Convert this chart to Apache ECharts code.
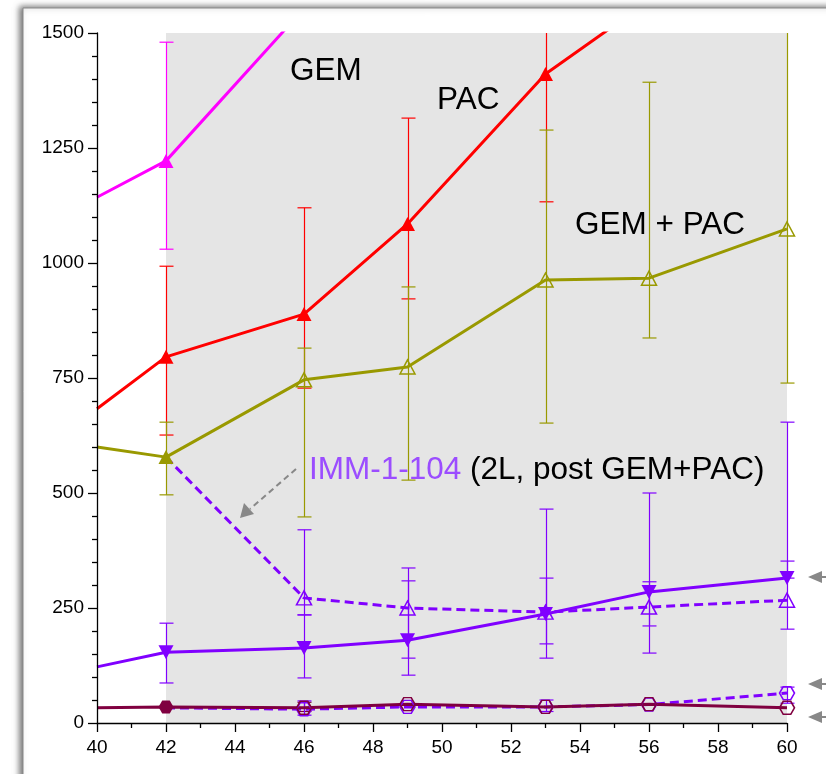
<!DOCTYPE html>
<html>
<head>
<meta charset="utf-8">
<script src="https://cdn.jsdelivr.net/npm/echarts@6/dist/echarts.min.js"></script>
<style>
  html, body { margin: 0; padding: 0; background: #ffffff; }
  #chart { width: 826px; height: 774px; }
</style>
</head>
<body>
<div id="chart"></div>
<script>
// ---- data ----
const xTicks = [40, 42, 44, 46, 48, 50, 52, 54, 56, 58, 60];
const yTicks = [0, 250, 500, 750, 1000, 1250, 1500];
const shadedRange = [42, 60];

// GEM
const gemX = [40, 42, 46];
const gemY = [1143, 1222, 1553];
const gemErrX = [42];
const gemErrLo = [1030];
const gemErrHi = [1480];

// PAC
const pacX = [40, 42, 46, 49, 53, 56];
const pacY = [683, 796, 889, 1085, 1411, 1570];
const pacErrX = [42, 46, 49, 53];
const pacErrLo = [626, 728, 922, 1133];
const pacErrHi = [993, 1120, 1315, 1690];

// GEM + PAC
const comboX = [40, 42, 46, 49, 53, 56, 60];
const comboY = [600, 578, 746, 774, 963, 967, 1074];
const comboErrX = [42, 46, 49, 53, 56, 60];
const comboErrLo = [496, 448, 528, 652, 837, 739];
const comboErrHi = [654, 815, 948, 1289, 1393, 1600];

// IMM-1-104 (2L, post GEM+PAC)
const immPostX = [42, 46, 49, 53, 56, 60];
const immPostY = [578, 272, 250, 241, 252, 267];
const immPostErrX = [46, 49, 53, 56, 60];
const immPostErrLo = [235, 141, 141, 152, 204];
const immPostErrHi = [420, 337, 315, 500, 654];

// IMM-1-104
const immX = [40, 42, 46, 49, 53, 56, 60];
const immY = [122, 154, 163, 180, 237, 285, 315];
const immErrX = [42, 46, 49, 53, 56, 60];
const immErrLo = [87, 98, 104, 172, 211, 315];
const immErrHi = [217, 235, 309, 465, 307, 352];

// baseline group
const baseX = [40, 42, 46, 49, 53, 56, 60];
const baseY = [33, 35, 33, 41, 35, 41, 33];
const baseErrX = [46];
const baseErrLo = [25];
const baseErrHi = [45];

// baseline group, post GEM+PAC
const basePostX = [42, 46, 49, 53, 56, 60];
const basePostY = [33, 30, 35, 35, 40, 65];
const basePostErrX = [46, 53, 60];
const basePostErrLo = [17, 25, 43];
const basePostErrHi = [48, 50, 78];

// ---- styles ----
const C_GEM = '#ff00ff';
const C_PAC = '#ff0000';
const C_COMBO = '#999900';
const C_IMM = '#8000ff';
const C_BASE = '#800040';
const C_LABEL_IMM = '#9b4dff';
const FONT = '"Liberation Sans", Arial, sans-serif';
const TITLE_FONT = '31.5px ' + FONT;
const HEX = 'path://M0,5 L3,0 L9,0 L12,5 L9,10 L3,10 Z';

function pairs(xs, ys) { return xs.map((x, i) => [x, ys[i]]); }
function errData(xs, lo, hi) { return xs.map((x, i) => [x, lo[i], hi[i]]); }

function openStyle(c) {
  return { color: 'rgba(0,0,0,0)', borderColor: c, borderWidth: 1.5 };
}

function errorSeries(xs, lo, hi, color) {
  return {
    type: 'custom',
    z: 2,
    silent: true,
    data: errData(xs, lo, hi),
    encode: { x: 0, y: [1, 2] },
    renderItem: function (params, api) {
      const cs = params.coordSys;
      const top = cs.y, bot = cs.y + cs.height;
      const x = api.value(0);
      const pLo = api.coord([x, api.value(1)]);
      const pHi = api.coord([x, api.value(2)]);
      const px = Math.round(pLo[0]) + 0.5;
      const y0 = Math.min(pLo[1], bot);
      const y1 = Math.max(pHi[1], top);
      const cap = 7;
      const style = { stroke: color, lineWidth: 1.2 };
      const kids = [{ type: 'line', shape: { x1: px, y1: y0, x2: px, y2: y1 }, style: style }];
      if (pLo[1] <= bot && pLo[1] >= top) {
        kids.push({ type: 'line', shape: { x1: px - cap, y1: pLo[1], x2: px + cap, y2: pLo[1] }, style: style });
      }
      if (pHi[1] >= top && pHi[1] <= bot) {
        kids.push({ type: 'line', shape: { x1: px - cap, y1: pHi[1], x2: px + cap, y2: pHi[1] }, style: style });
      }
      return { type: 'group', children: kids };
    }
  };
}

function lineSeries(data, color, opts) {
  return Object.assign({
    type: 'line',
    z: 3,
    data: data,
    showAllSymbol: true,
    clip: true,
    symbol: 'triangle',
    symbolSize: [15, 14],
    lineStyle: { color: color, width: 3 },
    itemStyle: { color: color },
    animation: false
  }, opts || {});
}

// per-point marker tweaks
const gemData = pairs(gemX, gemY).map(p => (p[0] === 42 ? p : { value: p, symbol: 'none' }));
const pacData = pairs(pacX, pacY).map(p => (p[0] === 40 ? { value: p, symbol: 'none' } : p));
const comboData = pairs(comboX, comboY).map(p => {
  if (p[0] === 40) return { value: p, symbol: 'none' };
  if (p[0] === 42) return p;
  return { value: p, itemStyle: openStyle(C_COMBO) };
});
const immPostData = pairs(immPostX, immPostY).map(p =>
  p[0] === 42 ? { value: p, symbol: 'none' } : { value: p, itemStyle: openStyle(C_IMM) });
const immData = pairs(immX, immY).map(p => (p[0] === 40 ? { value: p, symbol: 'none' } : p));
const baseData = pairs(baseX, baseY).map(p => {
  if (p[0] === 40) return { value: p, symbol: 'none' };
  if (p[0] === 42) return p;
  return { value: p, itemStyle: openStyle(C_BASE) };
});
const basePostData = pairs(basePostX, basePostY).map(p =>
  p[0] === 42 ? { value: p, symbol: 'none' } : { value: p, itemStyle: openStyle(C_IMM) });

// ---- annotation helpers (page pixels) ----
function leftArrow(y) {
  return [
    { type: 'polygon', shape: { points: [[808, y], [822, y - 6], [822, y + 6]] }, style: { fill: '#888888' }, z: 50 },
    { type: 'line', shape: { x1: 820, y1: y, x2: 830, y2: y }, style: { stroke: '#888888', lineWidth: 2 }, z: 50 }
  ];
}

const chart = echarts.init(document.getElementById('chart'), null, { renderer: 'canvas' });

const option = {
  animation: false,
  backgroundColor: '#ffffff',
  grid: { left: 97, top: 33, right: 39, bottom: 51, containLabel: false },
  xAxis: {
    type: 'value',
    min: xTicks[0],
    max: xTicks[xTicks.length - 1],
    interval: 2,
    z: 10,
    axisLine: { show: true, onZero: false, lineStyle: { color: '#000000', width: 1.3 } },
    axisTick: { show: true, length: 9, lineStyle: { color: '#000000', width: 1.3 } },
    minorTick: { show: true, splitNumber: 2, length: 5, lineStyle: { color: '#000000', width: 1.3 } },
    splitLine: { show: false },
    axisLabel: { color: '#000000', fontSize: 19, fontFamily: FONT, margin: 15, formatter: v => String(v) }
  },
  yAxis: {
    type: 'value',
    min: yTicks[0],
    max: yTicks[yTicks.length - 1],
    interval: 250,
    z: 10,
    axisLine: { show: true, onZero: false, lineStyle: { color: '#000000', width: 1.3 } },
    axisTick: { show: true, length: 9, lineStyle: { color: '#000000', width: 1.3 } },
    minorTick: { show: true, splitNumber: 5, length: 5, lineStyle: { color: '#000000', width: 1.3 } },
    splitLine: { show: false },
    axisLabel: { color: '#000000', fontSize: 19, fontFamily: FONT, margin: 13, formatter: v => String(v) }
  },
  series: [
    // shaded band
    {
      type: 'custom',
      z: 1,
      silent: true,
      data: [[shadedRange[0], shadedRange[1]]],
      encode: { x: [0, 1] },
      renderItem: function (params, api) {
        const cs = params.coordSys;
        const a = api.coord([api.value(0), 0]);
        const b = api.coord([api.value(1), 0]);
        return { type: 'rect', shape: { x: a[0], y: cs.y, width: b[0] - a[0], height: cs.height }, style: { fill: '#e5e5e5' } };
      }
    },
    errorSeries(gemErrX, gemErrLo, gemErrHi, C_GEM),
    errorSeries(pacErrX, pacErrLo, pacErrHi, C_PAC),
    errorSeries(comboErrX, comboErrLo, comboErrHi, C_COMBO),
    errorSeries(immPostErrX, immPostErrLo, immPostErrHi, C_IMM),
    errorSeries(immErrX, immErrLo, immErrHi, C_IMM),
    errorSeries(baseErrX, baseErrLo, baseErrHi, C_BASE),
    errorSeries(basePostErrX, basePostErrLo, basePostErrHi, C_IMM),
    lineSeries(gemData, C_GEM),
    lineSeries(pacData, C_PAC),
    lineSeries(comboData, C_COMBO),
    lineSeries(immPostData, C_IMM, { lineStyle: { color: C_IMM, width: 3, type: [9, 5] } }),
    lineSeries(immData, C_IMM, { symbolRotate: 180 }),
    lineSeries(basePostData, C_IMM, { symbol: HEX, symbolSize: [15, 13], lineStyle: { color: C_IMM, width: 3, type: [9, 5] } }),
    lineSeries(baseData, C_BASE, { symbol: HEX, symbolSize: [15, 13], lineStyle: { color: C_BASE, width: 3 } })
  ],
  graphic: [
    // panel with drop shadow
    {
      type: 'rect', z: -100, silent: true,
      shape: { x: 23, y: 8, width: 900, height: 900 },
      style: { fill: '#ffffff', stroke: '#8a8a8a', lineWidth: 1, shadowBlur: 6, shadowOffsetX: -3, shadowOffsetY: -1, shadowColor: 'rgba(0,0,0,0.55)' }
    },
    { type: 'text', z: 50, left: 290, top: 55, style: { text: 'GEM', font: TITLE_FONT, fill: '#000000' } },
    { type: 'text', z: 50, left: 437, top: 84, style: { text: 'PAC', font: TITLE_FONT, fill: '#000000' } },
    { type: 'text', z: 50, left: 575, top: 209, style: { text: 'GEM + PAC', font: TITLE_FONT, fill: '#000000' } },
    {
      type: 'text', z: 50, left: 309, top: 454,
      style: {
        text: '{a|IMM-1-104} {b|(2L, post GEM+PAC)}',
        font: TITLE_FONT,
        rich: {
          a: { fill: C_LABEL_IMM, font: TITLE_FONT },
          b: { fill: '#000000', font: TITLE_FONT }
        }
      }
    },
    // dashed pointer toward the post-treatment curve
    { type: 'line', z: 50, shape: { x1: 296, y1: 469, x2: 250, y2: 509 }, style: { stroke: '#888888', lineWidth: 2, lineDash: [6, 4] } },
    { type: 'polygon', z: 50, shape: { points: [[240, 518], [244, 503], [254, 514]] }, style: { fill: '#888888' } }
  ].concat(leftArrow(577), leftArrow(684), leftArrow(717))
};

chart.setOption(option);
</script>
</body>
</html>
